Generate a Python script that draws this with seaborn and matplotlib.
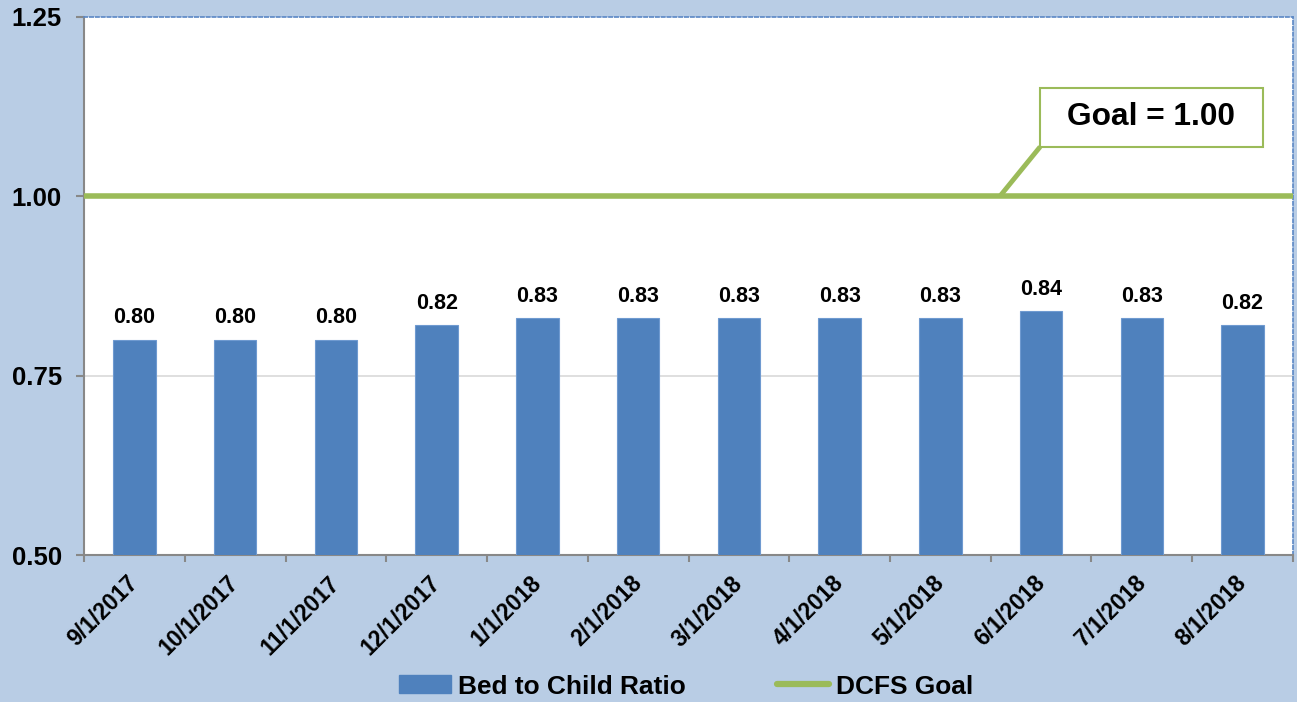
import matplotlib
matplotlib.use("Agg")
import matplotlib.pyplot as plt
import matplotlib.transforms as mtransforms
import seaborn as sns
import pandas as pd
from matplotlib.patches import Patch, Rectangle
from matplotlib.lines import Line2D

months = ["9/1/2017", "10/1/2017", "11/1/2017", "12/1/2017", "1/1/2018", "2/1/2018",
          "3/1/2018", "4/1/2018", "5/1/2018", "6/1/2018", "7/1/2018", "8/1/2018"]
ratio = [0.80, 0.80, 0.80, 0.82, 0.83, 0.83, 0.83, 0.83, 0.83, 0.84, 0.83, 0.82]
goal = 1.00
y_ticks = [0.50, 0.75, 1.00, 1.25]

BG = "#B9CDE5"
BAR = "#4F81BD"
GREEN = "#9BBB59"

sns.set_theme(style="white")
plt.rcParams["font.family"] = ["Liberation Sans", "DejaVu Sans"]
plt.rcParams["font.weight"] = "bold"
plt.rcParams["text.color"] = "black"
plt.rcParams["xtick.color"] = "black"
plt.rcParams["ytick.color"] = "black"

fig = plt.figure(figsize=(12.97, 7.02), dpi=100, facecolor=BG)
ax = fig.add_axes([0.0648, 0.2094, 0.9321, 0.7664])
ax.set_facecolor("white")

df = pd.DataFrame({"month": months, "ratio": ratio})
sns.barplot(data=df, x="month", y="ratio", color=BAR, width=0.42, saturation=1,
            edgecolor="#6F9AD0", linewidth=0.8, ax=ax, zorder=3)

n = len(months)
ax.set_xlim(-0.5, n - 0.5)
ax.set_ylim(y_ticks[0], y_ticks[-1])
ax.set_yticks(y_ticks)
ax.set_yticklabels([f"{v:.2f}" for v in y_ticks], fontsize=18.5, fontweight="bold", color="black")
ax.set_xlabel("")
ax.set_ylabel("")

# gridlines
for v in y_ticks[1:-1]:
    ax.axhline(v, color="#D9D9D9", lw=1.2, zorder=1)

# goal line
ax.axhline(goal, color=GREEN, lw=4, zorder=4)

# data labels
for i, v in enumerate(ratio):
    ax.text(i, v + 0.016, f"{v:.2f}", ha="center", va="bottom",
            fontsize=15.5, fontweight="bold", color="black", zorder=5)

# x ticks: labels at centers, tick marks at boundaries
ax.set_xticks(range(n))
ax.set_xticklabels(months, rotation=45, ha="right", rotation_mode="anchor",
                   fontsize=16.5, fontweight="bold", color="black")
ax.set_xticks([i - 0.5 for i in range(n + 1)], minor=True)
ax.tick_params(axis="x", which="major", length=0, pad=12)
ax.tick_params(axis="x", which="minor", length=5, width=1.5, color="#888888", direction="out", bottom=True)
ax.tick_params(axis="y", which="major", length=6, width=1.5, color="#888888", direction="out", left=True, pad=10)
shift = mtransforms.ScaledTranslation(-8 / 100, 0, fig.dpi_scale_trans)
for lab in ax.get_xticklabels():
    lab.set_transform(lab.get_transform() + shift)

for s in ["left", "bottom"]:
    ax.spines[s].set_color("#888888")
    ax.spines[s].set_linewidth(1.5)
for s in ["top", "right"]:
    ax.spines[s].set_color("#5B87C5")
    ax.spines[s].set_linewidth(1.2)
    ax.spines[s].set_linestyle((0, (2, 1.5)))

# goal annotation box
bx0, bx1 = 8.99, 11.20
by0, by1 = 1.069, 1.151
ax.add_patch(Rectangle((bx0, by0), bx1 - bx0, by1 - by0, facecolor="white",
                       edgecolor=GREEN, lw=1.5, zorder=6))
ax.text((bx0 + bx1) / 2, (by0 + by1) / 2, f"Goal = {goal:.2f}", ha="center", va="center",
        fontsize=22.8, fontweight="bold", color="black", zorder=7)
ax.plot([8.59, bx0], [goal, by0], color=GREEN, lw=3.5, zorder=5, solid_capstyle="butt")

handles = [Patch(facecolor=BAR, edgecolor=BAR),
           Line2D([0], [0], color=GREEN, lw=4.5, solid_capstyle="round")]
fig.legend(handles, ["Bed to Child Ratio", "DCFS Goal"], loc="center",
           bbox_to_anchor=(0.529, 0.022), ncol=2, frameon=False,
           prop={"size": 18.9, "weight": "bold"}, handlelength=1.97, handleheight=0.68,
           columnspacing=3.5, handletextpad=0.26, labelcolor="black",
           borderpad=0, borderaxespad=0)

fig.savefig("out.png", dpi=100, facecolor=BG)
